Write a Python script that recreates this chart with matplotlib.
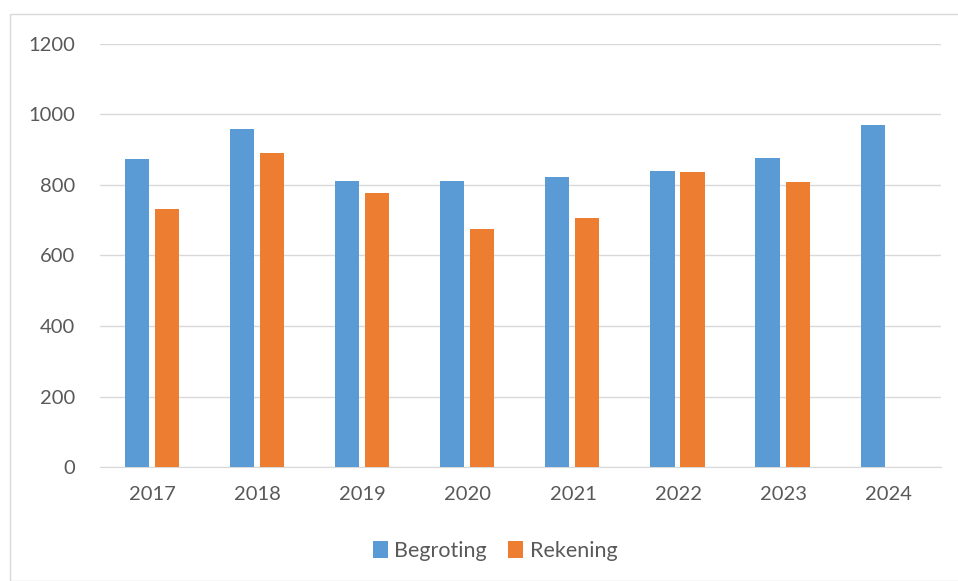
import matplotlib.pyplot as plt
import matplotlib.patches as mpatches
import numpy as np

# data
jaren = ["2017", "2018", "2019", "2020", "2021", "2022", "2023", "2024"]
begroting = [875, 960, 810, 810, 822, 839, 876, 971]
rekening = [733, 890, 776, 674, 707, 836, 808, None]

plt.rcParams['font.family'] = ['Lato', 'DejaVu Sans']

fig = plt.figure(figsize=(9.58, 5.81), dpi=100)
ax = fig.add_axes([100/958, 1-467/581, 841/958, 423/581])

# lichtgrijze rand om de grafiek
fig.patches.append(mpatches.Rectangle((10/958, 0), 1, 1-14/581, transform=fig.transFigure,
                                      fill=False, edgecolor='#D9D9D9', linewidth=1))

x = np.arange(len(jaren))
w = 0.23
ax.bar(x - 0.15, begroting, w, color='#5B9BD5', label='Begroting', zorder=3)
rek = [np.nan if v is None else v for v in rekening]
ax.bar(x + 0.136, rek, w, color='#ED7D31', label='Rekening', zorder=3)

ax.set_xlim(-0.5, len(jaren) - 0.5)
ax.set_ylim(0, 1200)
ax.set_yticks(range(0, 1201, 200))
ax.set_xticks(x)
ax.set_xticklabels(jaren)
ax.grid(axis='y', color='#D9D9D9', linewidth=1, zorder=0)
for s in ['top', 'right', 'left']:
    ax.spines[s].set_visible(False)
ax.spines['bottom'].set_color('#D9D9D9')
ax.tick_params(length=0, labelsize=14.5, colors='#595959')
ax.tick_params(axis='x', pad=14)
ax.tick_params(axis='y', pad=18)

fig.legend(loc='center', bbox_to_anchor=(495/958, 1-551/581), ncol=2, frameon=False,
           fontsize=15.5, labelcolor='#595959', handlelength=0.7, handleheight=0.8,
           handletextpad=0.3, columnspacing=1.0)

fig.savefig('out.png', dpi=100)
